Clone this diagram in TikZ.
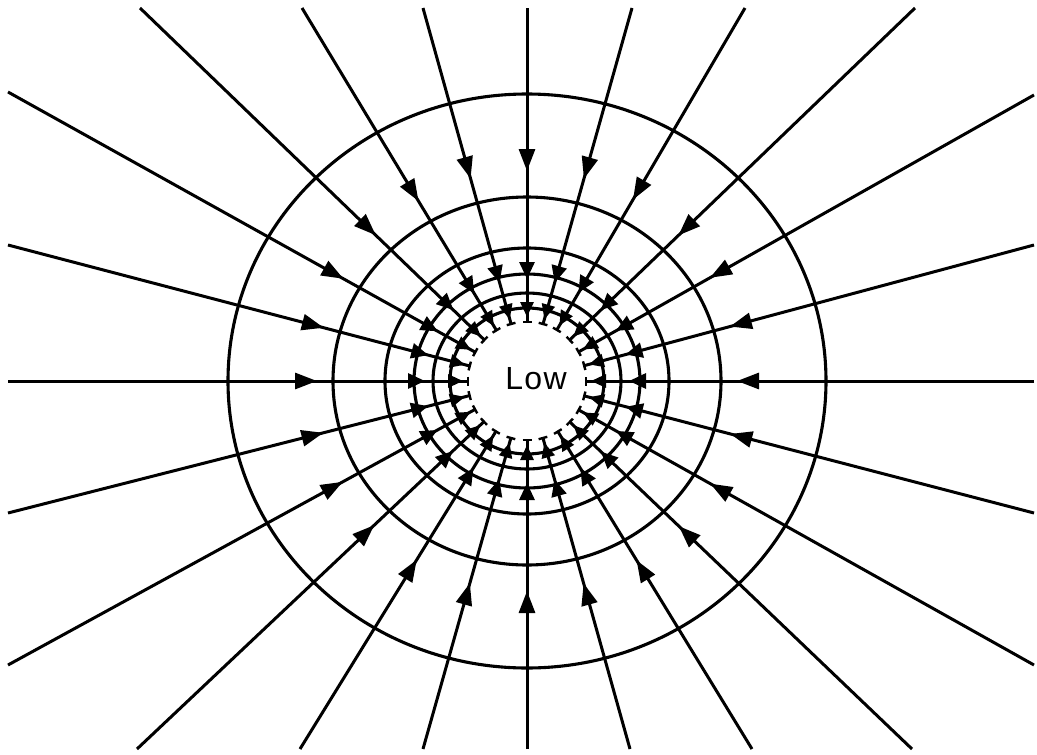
\documentclass[tikz,border=0pt]{standalone}
\usepackage{fontspec}
\newfontfamily\lowfont[LetterSpace=4]{Liberation Sans}
\usetikzlibrary{arrows.meta,decorations.markings,calc}
\tikzset{
  isobar/.style={line width=3.1pt},
  windline/.style={line width=3pt,
    -{Bar[width=9pt,line width=2.4pt]},
    decoration={markings,
      mark=at position -152pt with {\arrow{Triangle[length=22pt,width=16pt]}},
      mark=at position -44pt with {\arrow{Triangle[length=17pt,width=15pt]}},
      mark=at position -6pt with {\arrow{Triangle[length=15pt,width=13pt]}}},
    postaction=decorate},
  lowlabel/.style={font=\lowfont\fontsize{32}{38}\selectfont, inner sep=0pt}
}
\begin{document}
\begin{tikzpicture}[x=1pt,y=-1pt]
\useasboundingbox (0,0) rectangle (1037,755);
\coordinate (C) at (527,381);
% isobars
\foreach \a/\b in {299/287, 194/184, 142/133, 113/107, 94/88, 77/73}{
  \draw[isobar] (C) ellipse [x radius=\a pt, y radius=\b pt];
}
% converging wind lines, from the frame edge to the centre ring
\foreach \x/\y in {1034/381, 1034/245, 1034/95, 915/8, 745/8, 632/8, 527/8,
    423/8, 302/8, 140/8, 8/92, 8/245, 8/381, 8/513, 8/665,
    137/749, 300/749, 423/749, 527/749, 630/749, 752/749, 912/749,
    1034/665, 1034/513}{
  \coordinate (E) at (\x,\y);
  \draw[windline] (E) -- ($(C)!58pt!(E)$);
}
\node[lowlabel] (low) at (536,379) {Low};
\end{tikzpicture}
\end{document}
